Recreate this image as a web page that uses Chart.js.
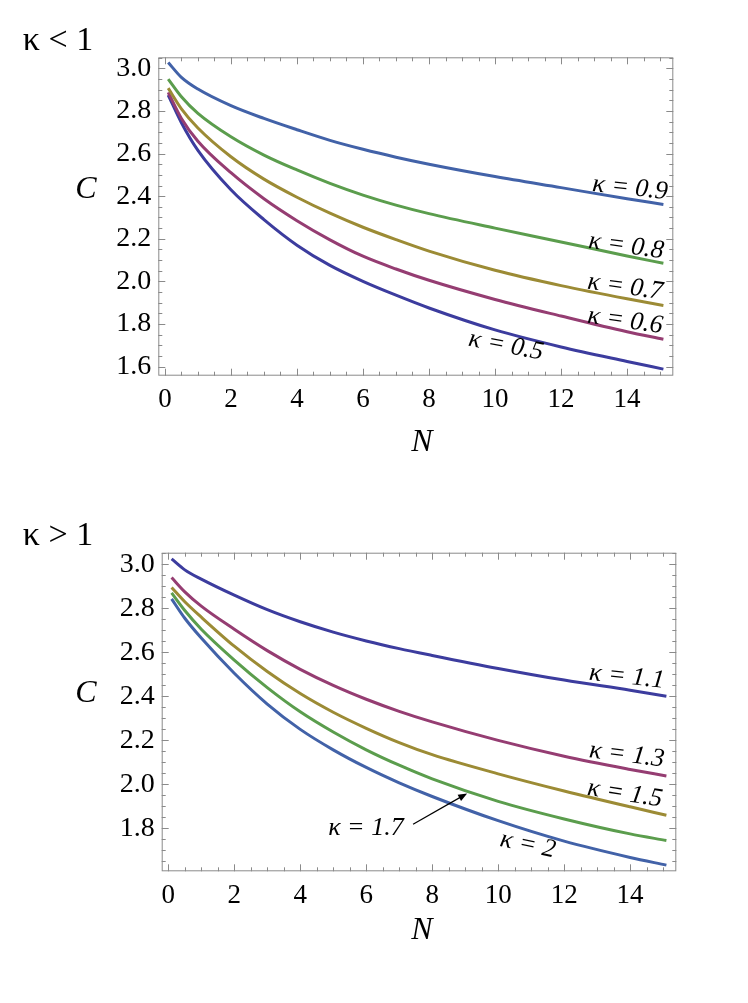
<!DOCTYPE html>
<html>
<head>
<meta charset="utf-8">
<script src="https://cdn.jsdelivr.net/npm/chart.js@4.4.0/dist/chart.umd.min.js"></script>
<style>
  body { margin: 0; background: #fff; }
  .wrap { position: absolute; left: 0; width: 748px; }
  #top { top: 0; height: 480px; }
  #bottom { top: 480px; height: 523px; }
</style>
</head>
<body>
<div class="wrap" id="top"><canvas id="c1"></canvas></div>
<div class="wrap" id="bottom"><canvas id="c2"></canvas></div>
<script>
const N = [0.1, 0.5, 1, 2, 3, 4, 5, 6, 7, 8, 10, 12, 14, 15.1]

// kappa < 1
const k09 = [3.028, 2.958, 2.903, 2.825, 2.765, 2.712, 2.662, 2.620, 2.583, 2.550, 2.492, 2.440, 2.388, 2.361]
const k08 = [2.950, 2.867, 2.789, 2.679, 2.593, 2.523, 2.460, 2.405, 2.358, 2.318, 2.250, 2.185, 2.119, 2.085]
const k07 = [2.907, 2.810, 2.720, 2.585, 2.480, 2.395, 2.320, 2.254, 2.196, 2.142, 2.052, 1.980, 1.918, 1.887]
const k06 = [2.887, 2.765, 2.658, 2.510, 2.388, 2.285, 2.195, 2.118, 2.058, 2.005, 1.915, 1.837, 1.763, 1.728]
const k05 = [2.875, 2.745, 2.615, 2.430, 2.290, 2.170, 2.075, 2.000, 1.935, 1.875, 1.772, 1.692, 1.624, 1.588]

// kappa > 1
const k11 = [3.025, 2.975, 2.933, 2.860, 2.794, 2.739, 2.692, 2.652, 2.617, 2.586, 2.527, 2.474, 2.428, 2.401]
const k13 = [2.940, 2.875, 2.810, 2.705, 2.608, 2.523, 2.450, 2.387, 2.332, 2.284, 2.200, 2.128, 2.068, 2.038]
const k15 = [2.895, 2.830, 2.760, 2.628, 2.513, 2.413, 2.328, 2.255, 2.190, 2.135, 2.048, 1.970, 1.898, 1.860]
const k17 = [2.870, 2.790, 2.705, 2.565, 2.440, 2.330, 2.238, 2.157, 2.087, 2.025, 1.923, 1.843, 1.775, 1.745]
const k20 = [2.843, 2.755, 2.665, 2.505, 2.365, 2.250, 2.157, 2.077, 2.007, 1.945, 1.835, 1.742, 1.668, 1.633]

const xTicks = [0, 2, 4, 6, 8, 10, 12, 14]
const yTicksTop = [1.6, 1.8, 2.0, 2.2, 2.4, 2.6, 2.8, 3.0]
const yTicksBottom = [1.8, 2.0, 2.2, 2.4, 2.6, 2.8, 3.0]

const DBLUE = '#3c3c9e', MAG = '#953d72', OLIVE = '#9c8b35', GREEN = '#5b9d4d', LBLUE = '#4262a8'
const SERIF = '"Liberation Serif", "DejaVu Serif", serif'

function frameTicks(chart, yMin, yMax) {
    const ctx = chart.ctx
    const a = chart.chartArea
    const xs = chart.scales.x, ys = chart.scales.y
    ctx.save()
    ctx.strokeStyle = '#8a8a8a'
    ctx.lineWidth = 1
    ctx.strokeRect(a.left + 0.5, a.top + 0.5, a.right - a.left - 1, a.bottom - a.top - 1)
    ctx.beginPath()
    for (let i = 0; i <= 30; i++) {
        const v = i * 0.5
        const p = Math.round(xs.getPixelForValue(v)) + 0.5
        const len = (v % 2 === 0) ? 7 : 4
        ctx.moveTo(p, a.bottom); ctx.lineTo(p, a.bottom - len)
        ctx.moveTo(p, a.top); ctx.lineTo(p, a.top + len)
    }
    for (let i = 0; i <= 40; i++) {
        const v = Math.round((1.5 + i * 0.05) * 100) / 100
        if (v < yMin || v > yMax) continue
        const p = Math.round(ys.getPixelForValue(v)) + 0.5
        const len = (Math.round(v * 100) % 20 === 0) ? 7 : 4
        ctx.moveTo(a.left, p); ctx.lineTo(a.left + len, p)
        ctx.moveTo(a.right, p); ctx.lineTo(a.right - len, p)
    }
    ctx.stroke()
    ctx.restore()
}

function text(ctx, s, x, y, size, rot, italic) {
    ctx.save()
    ctx.translate(x, y)
    ctx.rotate(rot * Math.PI / 180)
    ctx.font = (italic ? 'italic ' : '') + size + 'px ' + SERIF
    ctx.fillStyle = '#000'
    ctx.textAlign = 'center'
    ctx.textBaseline = 'middle'
    ctx.fillText(s, 0, 0)
    ctx.restore()
}

function makeChart(id, series, cfg) {
    const deco = {
        id: 'deco',
        afterDraw(chart) {
            const ctx = chart.ctx
            const xs = chart.scales.x, ys = chart.scales.y
            frameTicks(chart, cfg.yMin, cfg.yMax)
            text(ctx, cfg.title, 58, cfg.titleY, 34, 0, false)
            text(ctx, 'C', 86, cfg.cY, 32, 0, true)
            text(ctx, 'N', 422, cfg.nY, 32, 0, true)
            for (const l of cfg.labels) {
                text(ctx, l.t, xs.getPixelForValue(l.n), ys.getPixelForValue(l.c), 26, l.r, true)
            }
            if (cfg.arrow) {
                const [n0, c0, n1, c1] = cfg.arrow
                const x0 = xs.getPixelForValue(n0), y0 = ys.getPixelForValue(c0)
                const x1 = xs.getPixelForValue(n1), y1 = ys.getPixelForValue(c1)
                const ang = Math.atan2(y1 - y0, x1 - x0)
                ctx.save()
                ctx.strokeStyle = '#000'
                ctx.fillStyle = '#000'
                ctx.lineWidth = 1.2
                ctx.beginPath()
                ctx.moveTo(x0, y0)
                ctx.lineTo(x1 - 6 * Math.cos(ang), y1 - 6 * Math.sin(ang))
                ctx.stroke()
                ctx.beginPath()
                ctx.moveTo(x1, y1)
                ctx.lineTo(x1 - 9 * Math.cos(ang) + 3.5 * Math.sin(ang), y1 - 9 * Math.sin(ang) - 3.5 * Math.cos(ang))
                ctx.lineTo(x1 - 9 * Math.cos(ang) - 3.5 * Math.sin(ang), y1 - 9 * Math.sin(ang) + 3.5 * Math.cos(ang))
                ctx.closePath()
                ctx.fill()
                ctx.restore()
            }
        }
    }
    return new Chart(document.getElementById(id), {
        type: 'line',
        data: {
            datasets: series.map(s => ({
                label: s.label,
                data: N.map((n, i) => ({ x: n, y: s.values[i] })),
                borderColor: s.color,
                borderWidth: 3,
                pointRadius: 0,
                cubicInterpolationMode: 'monotone',
                fill: false
            }))
        },
        options: {
            responsive: true,
            maintainAspectRatio: false,
            animation: false,
            layout: { padding: { left: 0, right: cfg.padRight, top: cfg.padTop, bottom: 0 } },
            plugins: { legend: { display: false }, tooltip: { enabled: false } },
            scales: {
                x: {
                    type: 'linear',
                    min: -0.2,
                    max: 15.4,
                    grid: { display: false, drawTicks: false },
                    border: { display: false },
                    afterBuildTicks: scale => { scale.ticks = xTicks.map(v => ({ value: v })) },
                    afterFit: scale => { scale.height = cfg.xHeight },
                    ticks: {
                        autoSkip: false,
                        maxRotation: 0,
                        padding: 8,
                        color: '#000',
                        font: { family: SERIF, size: 27 },
                        callback: v => String(v)
                    }
                },
                y: {
                    type: 'linear',
                    min: cfg.yMin,
                    max: cfg.yMax,
                    grid: { display: false, drawTicks: false },
                    border: { display: false },
                    afterBuildTicks: scale => { scale.ticks = cfg.yTicks.map(v => ({ value: v })) },
                    afterFit: scale => { scale.width = cfg.left },
                    ticks: {
                        autoSkip: false,
                        padding: 7,
                        color: '#000',
                        font: { family: SERIF, size: 28 },
                        callback: v => v.toFixed(1)
                    }
                }
            }
        },
        plugins: [deco]
    })
}

makeChart('c1', [
    { label: 'κ = 0.9', values: k09, color: LBLUE },
    { label: 'κ = 0.8', values: k08, color: GREEN },
    { label: 'κ = 0.7', values: k07, color: OLIVE },
    { label: 'κ = 0.6', values: k06, color: MAG },
    { label: 'κ = 0.5', values: k05, color: DBLUE }
], {
    yMin: 1.557, yMax: 3.052, yTicks: yTicksTop,
    left: 158.3, padRight: 74.7, padTop: 57.3, xHeight: 104.3,
    title: 'κ < 1', titleY: 41, cY: 190, nY: 443,
    labels: [
        { t: 'κ = 0.9', n: 14.09, c: 2.437, r: 6 },
        { t: 'κ = 0.8', n: 13.97, c: 2.165, r: 8 },
        { t: 'κ = 0.7', n: 13.94, c: 1.973, r: 8 },
        { t: 'κ = 0.6', n: 13.94, c: 1.814, r: 8 },
        { t: 'κ = 0.5', n: 10.33, c: 1.697, r: 11 }
    ]
})

makeChart('c2', [
    { label: 'κ = 1.1', values: k11, color: DBLUE },
    { label: 'κ = 1.3', values: k13, color: MAG },
    { label: 'κ = 1.5', values: k15, color: OLIVE },
    { label: 'κ = 1.7', values: k17, color: GREEN },
    { label: 'κ = 2', values: k20, color: LBLUE }
], {
    yMin: 1.605, yMax: 3.053, yTicks: yTicksBottom,
    left: 161.7, padRight: 71.7, padTop: 72.7, xHeight: 131.7,
    title: 'κ > 1', titleY: 56, cY: 214, nY: 451,
    labels: [
        { t: 'κ = 1.1', n: 13.9, c: 2.488, r: 6 },
        { t: 'κ = 1.3', n: 13.9, c: 2.133, r: 7 },
        { t: 'κ = 1.5', n: 13.84, c: 1.957, r: 9 },
        { t: 'κ = 2', n: 10.9, c: 1.725, r: 12 },
        { t: 'κ = 1.7', n: 5.99, c: 1.802, r: 0 }
    ],
    arrow: [7.42, 1.819, 9.06, 1.959]
})
</script>
</body>
</html>
